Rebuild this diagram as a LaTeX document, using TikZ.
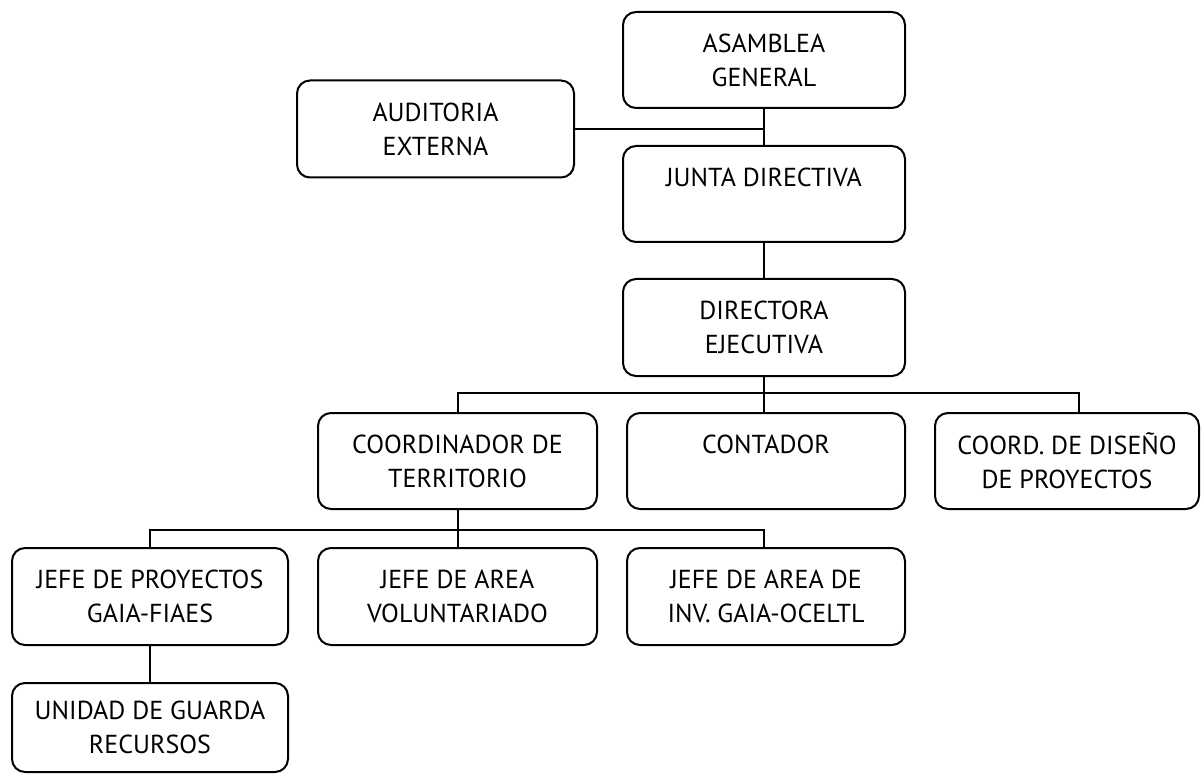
\documentclass[tikz,border=0pt]{standalone}
\usepackage{fontspec}
\setmainfont{PT Sans}
\usepackage{tikz}
\usetikzlibrary{positioning}

\begin{document}
\begin{tikzpicture}[x=1pt,y=-1pt,line width=2pt]%
        \useasboundingbox (0,0) rectangle (1201,775);%%
        \begin{scope}
            \tikzstyle{every node}=[draw,rounded corners=13pt,align=center,inner sep=0pt,font=\fontsize{26}{34}\selectfont];%%
            \node[minimum width=282pt,minimum height=96pt] (asamblea) at (764,60)  {ASAMBLEA\\GENERAL}; %%
            \node[minimum width=277pt,minimum height=97pt] (auditoria) at (435.5,129)  {AUDITORIA\\EXTERNA}; %%
            \node[minimum width=282pt,minimum height=96pt] (junta) at (764,194)  {JUNTA DIRECTIVA\\~}; %%
            \node[minimum width=282pt,minimum height=97pt] (directora) at (764,327.5)  {DIRECTORA\\EJECUTIVA}; %%
            \node[minimum width=279pt,minimum height=96pt] (coordinador) at (457.5,461)  {COORDINADOR DE\\TERRITORIO}; %%
            \node[minimum width=278pt,minimum height=96pt] (contador) at (766,461)  {CONTADOR\\~}; %%
            \node[minimum width=264pt,minimum height=96pt] (coorddis) at (1067,461)  {COORD. DE DISE\~NO\\DE PROYECTOS}; %%
            \node[minimum width=276pt,minimum height=97pt] (jefeproy) at (150,596.5)  {JEFE DE PROYECTOS\\GAIA-FIAES}; %%
            \node[minimum width=279pt,minimum height=97pt] (jefevol) at (457.5,596.5)  {JEFE DE AREA\\VOLUNTARIADO}; %%
            \node[minimum width=278pt,minimum height=97pt] (jefeinv) at (766,596.5)  {JEFE DE AREA DE\\INV. GAIA-OCELTL}; %%
            \node[minimum width=276pt,minimum height=89pt] (unidad) at (150,727.5)  {UNIDAD DE GUARDA\\RECURSOS}; %%
        \end{scope}
        \coordinate (bus1) at (764,393); %%
        \coordinate (bus2) at (457.5,530); %%
        \draw (asamblea)--(junta); %%
        \draw (auditoria.east)--(auditoria.east -| asamblea.south); %%
        \draw (junta)--(directora); %%
        \draw (directora.south)--(bus1)--(bus1 |- contador.north); %%
        \draw (coordinador.north) |- (bus1) -| ([xshift=12pt]coorddis.north); %%
        \draw (coordinador)--(jefevol); %%
        \draw (jefeproy.north) |- (bus2) -| ([xshift=-2pt]jefeinv.north); %%
        \draw (jefeproy)--(unidad); %%
        \end{tikzpicture}
\end{document}
